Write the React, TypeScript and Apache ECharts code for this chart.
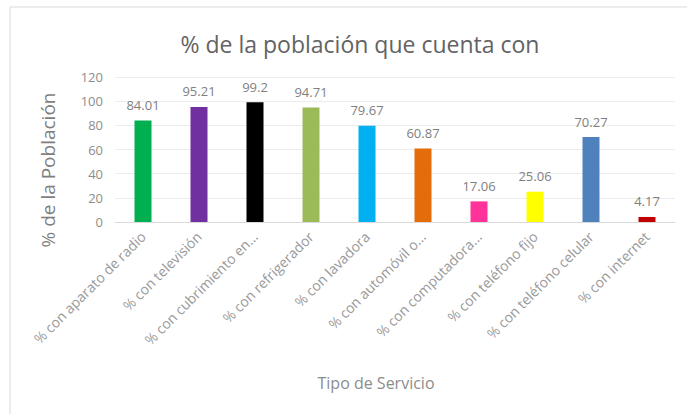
import React, { useEffect, useRef } from "react";
import * as echarts from "echarts";

const categories = [
  "% con aparato de radio",
  "% con televisión",
  "% con cubrimiento en...",
  "% con refrigerador",
  "% con lavadora",
  "% con automóvil o...",
  "% con computadora...",
  "% con teléfono fijo",
  "% con teléfono celular",
  "% con internet",
];
const values = [84.01, 95.21, 99.2, 94.71, 79.67, 60.87, 17.06, 25.06, 70.27, 4.17];
const barColors = [
  "#00B050",
  "#7030A0",
  "#000000",
  "#9BBB59",
  "#00B0F0",
  "#E46C0A",
  "#FF3399",
  "#FFFF00",
  "#4F81BD",
  "#C00000",
];
const yTicks = [0, 20, 40, 60, 80, 100, 120];
const titleText = "% de la población que cuenta con";
const yName = "% de la Población";
const xName = "Tipo de Servicio";

export default function App() {
  const ref = useRef<HTMLDivElement>(null);
  useEffect(() => {
    if (!ref.current) return;
    const chart = echarts.init(ref.current, null, { renderer: "svg" });
    const font = "'Open Sans', 'Noto Sans', sans-serif";
    chart.setOption({
      animation: false,
      backgroundColor: "#ffffff",
      textStyle: { fontFamily: font },
      title: {
        text: titleText,
        left: 355,
        textAlign: "center",
        top: 27,
        textStyle: { fontSize: 23, fontWeight: "normal", color: "#636363", fontFamily: font },
      },
      graphic: [
        {
          type: "rect",
          shape: { x: 10, y: 7, width: 690, height: 420 },
          style: { fill: "none", stroke: "#d9d9d9", lineWidth: 1 },
          silent: true,
        },
        {
          type: "text",
          x: 48,
          y: 170,
          rotation: Math.PI / 2,
          silent: true,
          style: {
            text: yName,
            fontSize: 19,
            fill: "#7f7f7f",
            fontFamily: font,
            align: "center",
            verticalAlign: "middle",
          },
        },
        {
          type: "text",
          x: 376,
          y: 383,
          silent: true,
          style: {
            text: xName,
            fontSize: 16,
            fill: "#8c8c8c",
            fontFamily: font,
            align: "center",
            verticalAlign: "middle",
          },
        },
      ],
      grid: { left: 115, right: 12, top: 77, bottom: 192 },
      xAxis: {
        type: "category",
        data: categories,
        axisLine: { show: true, lineStyle: { color: "#d9d9d9" } },
        axisTick: { show: false },
        axisLabel: {
          rotate: 45,
          interval: 0,
          fontSize: 14,
          color: "#999999",
          margin: 12,
          fontFamily: font,
        },
      },
      yAxis: {
        type: "value",
        min: 0,
        max: 120,
        interval: 20,
        axisLabel: {
          fontSize: 13,
          color: "#8c8c8c",
          margin: 12,
          fontFamily: font,
          formatter: (v: number) => (yTicks.includes(v) ? String(v) : ""),
        },
        axisLine: { show: false },
        axisTick: { show: false },
        splitLine: { lineStyle: { color: "#ececec" } },
      },
      series: [
        {
          type: "bar",
          barWidth: 17,
          data: values.map((v, i) => ({ value: v, itemStyle: { color: barColors[i] } })),
          label: {
            show: true,
            position: "top",
            distance: 9,
            fontSize: 13,
            color: "#7f7f7f",
            fontFamily: font,
          },
        },
      ],
    });
    return () => chart.dispose();
  }, []);
  return (
    <div
      ref={ref}
      style={{ position: "absolute", left: 0, top: 0, width: 687, height: 414 }}
    />
  );
}
